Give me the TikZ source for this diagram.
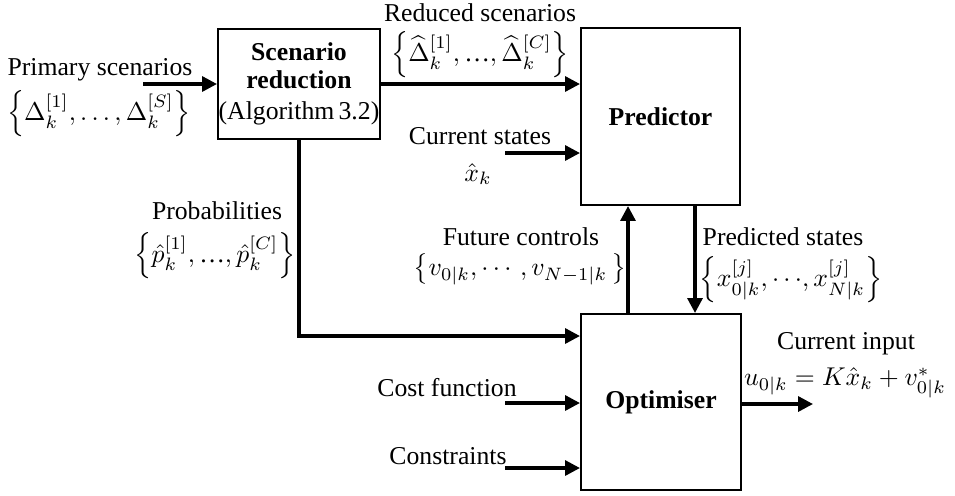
\documentclass[tikz,border=0pt]{standalone}
\usepackage{amsmath}
\usepackage{fontspec}
\setmainfont{Liberation Serif}
\usetikzlibrary{arrows.meta}
\begin{document}
\begin{tikzpicture}[x=0.389pt,y=-0.389pt,
  font=\normalsize,
  box/.style={draw,line width=0.8pt,inner sep=0pt,align=center},
  arr/.style={line width=1.3pt,line join=miter,-{Triangle[length=5.8pt,width=5.8pt]}},
  lbl/.style={inner sep=0pt,anchor=center}]
\useasboundingbox (0,0) rectangle (955,495);

% blocks
\node[box,minimum width=63pt,minimum height=42.8pt] (sr) at (299,84)
  {\textbf{Scenario}\\[-1pt]\textbf{reduction}\\[0pt](Algorithm\,3.2)};
\node[box,minimum width=61.85pt,minimum height=68.85pt] (pred) at (660.5,116.5)
  {\textbf{Predictor}};
\node[box,minimum width=62.24pt,minimum height=68.46pt] (opt) at (661,402)
  {\textbf{Optimiser}};

% labels
\node[lbl] (pst) at (100,70) {Primary scenarios};
\node[lbl] (psm) at (99,114) {$\left\{\Delta_k^{[1]},\ldots,\Delta_k^{[S]}\right\}$};
\node[lbl] (rst) at (480,13) {Reduced scenarios};
\node[lbl] (rsm) at (480,55) {$\left\{\widehat{\Delta}_k^{[1]},\text{…},\widehat{\Delta}_k^{[C]}\right\}$};
\node[lbl] (cst) at (480,136) {Current states};
\node[lbl] (csm) at (478,174) {$\hat{x}_k$};
\node[lbl] (prt) at (217,211) {Probabilities};
\node[lbl] (prm) at (215,256) {$\left\{\hat{p}_k^{[1]},\text{…},\hat{p}_k^{[C]}\right\}$};
\node[lbl] (fct) at (521,237) {Future controls};
\node[lbl] (fcm) at (520,269) {$\left\{v_{0|k},\cdots,v_{N-1|k}\,\right\}$};
\node[lbl] (pdt) at (783,237) {Predicted states};
\node[lbl] (pdm) at (791,280) {$\left\{x_{0|k}^{[j]},{\cdots},x_{N|k}^{[j]}\right\}$};
\node[lbl] (cit) at (846,344) {Current input};
\node[lbl] (cim) at (845,383) {$u_{0|k}=K\hat{x}_k+v^*_{0|k}$};
\node[lbl] (cft) at (447,388) {Cost function};
\node[lbl] (cnt) at (448,456) {Constraints};

% connector coordinates
\coordinate (psin) at (143,84);
\coordinate (csin) at (505,153);
\coordinate (pb) at (299,336);
\coordinate (fcx) at (628,0);
\coordinate (pdx) at (695,0);
\coordinate (cfin) at (505,403);
\coordinate (cnin) at (505,468);
\coordinate (out) at (813,404);

% connectors
\draw[arr] (psin) -- (psin -| sr.west);
\draw[arr] (sr.east) -- (sr.east -| pred.west);
\draw[arr] (csin) -- (csin -| pred.west);
\draw[arr] (sr.south) -- (pb) -- (pb -| opt.west);
\draw[arr] (fcx |- opt.north) -- (fcx |- pred.south);
\draw[arr] (pdx |- pred.south) -- (pdx |- opt.north);
\draw[arr] (cfin) -- (cfin -| opt.west);
\draw[arr] (cnin) -- (cnin -| opt.west);
\draw[arr] (opt.east |- out) -- (out);
\end{tikzpicture}
\end{document}
